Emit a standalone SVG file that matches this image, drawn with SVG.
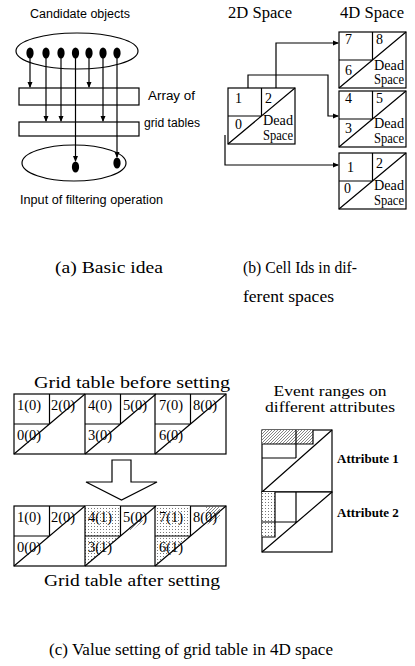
<svg xmlns="http://www.w3.org/2000/svg" width="415" height="666" viewBox="0 0 415 666">
<defs>
<style>
.ln{fill:none;stroke:#000;stroke-width:1.2}
.bx{fill:#fff;stroke:#000;stroke-width:1.2}
.sans{font-family:"Liberation Sans",Arial,sans-serif;font-size:12.5px;fill:#000}
.serif{font-family:"Liberation Serif","Times New Roman",serif;fill:#000}
.cell{font-family:"Liberation Serif","Times New Roman",serif;font-size:14px;fill:#000}
.gt{font-family:"Liberation Serif","Times New Roman",serif;font-size:14.5px;fill:#000}
.attr{font-family:"Liberation Serif","Times New Roman",serif;font-size:13px;font-weight:bold;fill:#000}
.cap{font-family:"Liberation Serif","Times New Roman",serif;font-size:17px;fill:#000}
</style>
<marker id="ah" markerWidth="6" markerHeight="6" refX="5" refY="3" orient="auto" markerUnits="userSpaceOnUse">
<path d="M0,0.5 L6,3 L0,5.5 Z" fill="#000"/>
</marker>
<pattern id="dots" width="3" height="3" patternUnits="userSpaceOnUse">
<rect width="3" height="3" fill="#fff"/>
<rect x="1" y="1" width="1" height="1" fill="#777"/>
</pattern>
<pattern id="hatch" width="3" height="3" patternUnits="userSpaceOnUse">
<rect width="3" height="3" fill="#fff"/>
<path d="M-1,1 L1,-1 M0,3 L3,0 M2,4 L4,2" stroke="#666" stroke-width="0.8"/>
</pattern>
<g id="box4d">
<rect class="bx" x="0" y="0" width="67" height="56"/>
<path class="ln" d="M0,56 L67,0 M33.5,0 V28 M0,28 H33.5"/>
</g>
<g id="gt4d">
<path class="ln" d="M0,60 L71,0 M35.5,0 V30 M0,30 H35.5"/>
</g>
</defs>
<rect width="415" height="666" fill="#fff"/>

<!-- (a) Basic idea -->
<g id="a-labels">
<text class="sans" x="30" y="18" textLength="100" lengthAdjust="spacingAndGlyphs">Candidate objects</text>
<text class="sans" x="148" y="100" textLength="47" lengthAdjust="spacingAndGlyphs">Array of</text>
<text class="sans" x="144" y="127" textLength="56" lengthAdjust="spacingAndGlyphs">grid tables</text>
<text class="sans" x="20" y="204" textLength="143" lengthAdjust="spacingAndGlyphs">Input of filtering operation</text>
</g>
<g id="candidate-set"><ellipse class="ln" cx="77" cy="51" rx="61" ry="18"/></g>
<g id="grid-table-1"><rect class="ln" x="19" y="88" width="120" height="17"/></g>
<g id="grid-table-2"><rect class="ln" x="19" y="122" width="120" height="14"/></g>
<g id="filter-input"><ellipse class="ln" cx="74" cy="163" rx="52" ry="18"/></g>
<g id="a-connectors">
<path class="ln" marker-end="url(#ah)" d="M30,53 V87"/>
<path class="ln" marker-end="url(#ah)" d="M46,53 V121"/>
<path class="ln" marker-end="url(#ah)" d="M61,53 V121"/>
<path class="ln" marker-end="url(#ah)" d="M75.5,53 V161"/>
<path class="ln" marker-end="url(#ah)" d="M89,53 V87"/>
<path class="ln" marker-end="url(#ah)" d="M103,53 V121"/>
<path class="ln" marker-end="url(#ah)" d="M117,53 V157"/>
</g>
<g id="objects">
<ellipse cx="30" cy="53" rx="3.6" ry="5.5"/>
<ellipse cx="46" cy="53" rx="3.6" ry="5.5"/>
<ellipse cx="61" cy="53" rx="3.6" ry="5.5"/>
<ellipse cx="75.5" cy="53" rx="3.6" ry="5.5"/>
<ellipse cx="89" cy="53" rx="3.6" ry="5.5"/>
<ellipse cx="103" cy="53" rx="3.6" ry="5.5"/>
<ellipse cx="117" cy="53" rx="3.6" ry="5.5"/>
<ellipse cx="75.5" cy="167" rx="3.6" ry="5.5"/>
<ellipse cx="117" cy="163" rx="3.6" ry="5.5"/>
</g>

<!-- (b) Cell Ids -->
<text class="serif" x="228" y="18" font-size="16" textLength="64" lengthAdjust="spacingAndGlyphs">2D Space</text>
<text class="serif" x="340" y="18" font-size="16" textLength="64" lengthAdjust="spacingAndGlyphs">4D Space</text>
<g id="b-connectors">
<path class="ln" marker-end="url(#ah)" d="M276,88 V43 H338"/>
<path class="ln" marker-end="url(#ah)" d="M248,88 V75 H328 V116 H338"/>
<path class="ln" marker-end="url(#ah)" d="M225,135 V165 H338"/>
</g>
<g id="box-2d">
<use href="#box4d" x="228" y="88"/>
<text class="cell" x="235" y="103">1</text>
<text class="cell" x="265" y="103">2</text>
<text class="cell" x="235" y="129">0</text>
<text class="cell" x="263" y="125" textLength="30" lengthAdjust="spacingAndGlyphs">Dead</text>
<text class="cell" x="263" y="140" textLength="30" lengthAdjust="spacingAndGlyphs">Space</text>
</g>
<g id="box-4d-a">
<use href="#box4d" x="339" y="32"/>
<text class="cell" x="345" y="44">7</text>
<text class="cell" x="376" y="44">8</text>
<text class="cell" x="345" y="75">6</text>
<text class="cell" x="374" y="70" textLength="30" lengthAdjust="spacingAndGlyphs">Dead</text>
<text class="cell" x="374" y="84" textLength="30" lengthAdjust="spacingAndGlyphs">Space</text>
</g>
<g id="box-4d-b">
<use href="#box4d" x="339" y="91"/>
<text class="cell" x="345" y="103">4</text>
<text class="cell" x="376" y="103">5</text>
<text class="cell" x="345" y="133">3</text>
<text class="cell" x="374" y="128" textLength="30" lengthAdjust="spacingAndGlyphs">Dead</text>
<text class="cell" x="374" y="143" textLength="30" lengthAdjust="spacingAndGlyphs">Space</text>
</g>
<g id="box-4d-c">
<use href="#box4d" x="339" y="153"/>
<text class="cell" x="347" y="172">1</text>
<text class="cell" x="376" y="168">2</text>
<text class="cell" x="344" y="193">0</text>
<text class="cell" x="374" y="190" textLength="30" lengthAdjust="spacingAndGlyphs">Dead</text>
<text class="cell" x="374" y="205" textLength="30" lengthAdjust="spacingAndGlyphs">Space</text>
</g>

<text class="cap" x="55" y="273" textLength="108" lengthAdjust="spacingAndGlyphs">(a) Basic idea</text>
<text class="cap" x="243" y="273" textLength="114" lengthAdjust="spacingAndGlyphs">(b) Cell Ids in dif-</text>
<text class="cap" x="243" y="302" textLength="91" lengthAdjust="spacingAndGlyphs">ferent spaces</text>

<!-- (c) -->
<text class="serif" x="34" y="388" font-size="16" textLength="196" lengthAdjust="spacingAndGlyphs">Grid table before setting</text>
<g id="table-before">
<rect class="bx" x="14" y="394" width="212" height="60"/>
<use href="#gt4d" x="14" y="394"/>
<use href="#gt4d" x="85" y="394"/>
<use href="#gt4d" x="155" y="394"/>
<path class="ln" d="M85,394 V454 M155,394 V454"/>
<text class="gt" x="17" y="410">1(0)</text>
<text class="gt" x="51" y="410">2(0)</text>
<text class="gt" x="17" y="440">0(0)</text>
<text class="gt" x="88" y="410">4(0)</text>
<text class="gt" x="123" y="410">5(0)</text>
<text class="gt" x="88" y="440">3(0)</text>
<text class="gt" x="159" y="410">7(0)</text>
<text class="gt" x="193" y="410">8(0)</text>
<text class="gt" x="159" y="440">6(0)</text>
</g>
<g id="big-arrow">
<polygon class="bx" points="112,460 131,460 131,482 157,482 121.5,500 86,482 112,482"/>
</g>
<g id="table-after">
<rect class="bx" x="14" y="506" width="212" height="60"/>
<rect x="85" y="506" width="35.5" height="30" fill="url(#dots)"/>
<polygon points="85,536 120.5,536 85,566" fill="url(#dots)"/>
<rect x="155" y="506" width="35.5" height="30" fill="url(#dots)"/>
<polygon points="155,536 190.5,536 155,566" fill="url(#dots)"/>
<polygon points="129,528 141,518 143,521 131,531" fill="url(#hatch)"/>
<polygon points="206,507 220,507 220,518 206,525" fill="url(#hatch)"/>
<use href="#gt4d" x="14" y="506"/>
<use href="#gt4d" x="85" y="506"/>
<use href="#gt4d" x="155" y="506"/>
<path class="ln" d="M85,506 V566 M155,506 V566"/>
<text class="gt" x="17" y="522">1(0)</text>
<text class="gt" x="51" y="522">2(0)</text>
<text class="gt" x="17" y="552">0(0)</text>
<text class="gt" x="88" y="522">4(1)</text>
<text class="gt" x="123" y="522">5(0)</text>
<text class="gt" x="88" y="552">3(1)</text>
<text class="gt" x="159" y="522">7(1)</text>
<text class="gt" x="193" y="522">8(0)</text>
<text class="gt" x="159" y="552">6(1)</text>
</g>
<text class="serif" x="44" y="586" font-size="16" textLength="176" lengthAdjust="spacingAndGlyphs">Grid table after setting</text>

<text class="serif" x="330" y="396" font-size="15" text-anchor="middle" textLength="113" lengthAdjust="spacingAndGlyphs">Event ranges on</text>
<text class="serif" x="265" y="412" font-size="15" textLength="130" lengthAdjust="spacingAndGlyphs">different attributes</text>
<g id="range-attr1">
<rect class="bx" x="262" y="430" width="70" height="62"/>
<rect x="262" y="430" width="51" height="14" fill="url(#hatch)"/>
<path class="ln" d="M262,444 H313 V430 M296,430 V458 M262,458 H296 M262,492 L332,430"/>
</g>
<g id="range-attr2">
<rect class="bx" x="262" y="492" width="70" height="60"/>
<rect x="262" y="492" width="13" height="45" fill="url(#dots)"/>
<path class="ln" d="M275,492 V537 H262 M296,492 V522 H262 M262,552 L332,492"/>
</g>
<text class="attr" x="337" y="463">Attribute 1</text>
<text class="attr" x="337" y="517">Attribute 2</text>

<text class="cap" x="49" y="655" textLength="284" lengthAdjust="spacingAndGlyphs">(c) Value setting of grid table in 4D space</text>
</svg>
